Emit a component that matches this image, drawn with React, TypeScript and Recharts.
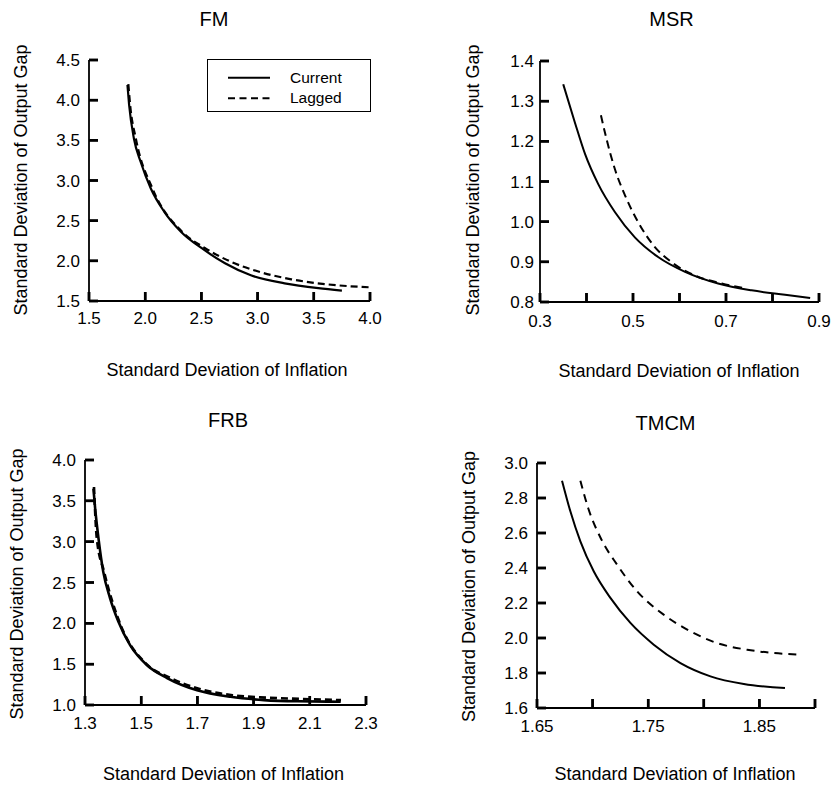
import React from 'react';
import { LineChart, Line, XAxis, YAxis, Legend, Customized, ReferenceLine } from 'recharts';

const FONT = '"Liberation Sans", Arial, Helvetica, sans-serif';

// ---------- FM ----------
const fmCurrentX = [1.842, 1.857, 1.9, 1.96, 2.05, 2.17, 2.32, 2.5, 2.71, 2.94, 3.24, 3.54, 3.75];
const fmCurrentY = [4.19, 3.94, 3.52, 3.23, 2.9, 2.61, 2.36, 2.16, 1.97, 1.82, 1.72, 1.66, 1.63];
const fmLaggedX = [1.85, 1.866, 1.917, 2.065, 2.33, 2.53, 2.76, 3.0, 3.3, 3.6, 4.0];
const fmLaggedY = [4.2, 3.94, 3.52, 2.9, 2.36, 2.16, 1.99, 1.87, 1.77, 1.71, 1.67];
const fmXTicks = [1.5, 2.0, 2.5, 3.0, 3.5, 4.0];
const fmYTicks = [1.5, 2.0, 2.5, 3.0, 3.5, 4.0, 4.5];

// ---------- MSR ----------
const msrCurrentX = [0.35, 0.375, 0.397, 0.425, 0.461, 0.504, 0.554, 0.612, 0.683, 0.755, 0.827, 0.881];
const msrCurrentY = [1.342, 1.247, 1.168, 1.094, 1.024, 0.961, 0.912, 0.875, 0.846, 0.829, 0.818, 0.81];
const msrLaggedX = [0.431, 0.443, 0.461, 0.483, 0.511, 0.544, 0.583, 0.633, 0.691, 0.74];
const msrLaggedY = [1.265, 1.206, 1.131, 1.065, 0.999, 0.941, 0.899, 0.866, 0.846, 0.834];
const msrXTicks = [0.3, 0.4, 0.5, 0.6, 0.7, 0.8, 0.9];
const msrXLabels = [0.3, 0.5, 0.7, 0.9];
const msrYTicks = [0.8, 0.9, 1.0, 1.1, 1.2, 1.3, 1.4];

// ---------- FRB ----------
const frbCurrentX = [1.33, 1.336, 1.348, 1.365, 1.389, 1.419, 1.461, 1.52, 1.592, 1.699, 1.818, 1.937, 2.056, 2.21];
const frbCurrentY = [3.65, 3.41, 3.04, 2.63, 2.31, 2.02, 1.73, 1.49, 1.33, 1.18, 1.1, 1.06, 1.045, 1.04];
const frbLaggedX = [1.332, 1.342, 1.368, 1.422, 1.522, 1.598, 1.705, 1.825, 1.945, 2.065, 2.211];
const frbLaggedY = [3.67, 3.04, 2.63, 2.02, 1.49, 1.34, 1.2, 1.12, 1.09, 1.075, 1.06];
const frbXTicks = [1.3, 1.5, 1.7, 1.9, 2.1, 2.3];
const frbYTicks = [1.0, 1.5, 2.0, 2.5, 3.0, 3.5, 4.0];

// ---------- TMCM ----------
const tmcmCurrentX = [1.6725, 1.68, 1.689, 1.701, 1.716, 1.734, 1.755, 1.779, 1.806, 1.836, 1.873];
const tmcmCurrentY = [2.899, 2.724, 2.552, 2.381, 2.229, 2.086, 1.962, 1.857, 1.781, 1.737, 1.714];
const tmcmLaggedX = [1.689, 1.696, 1.708, 1.722, 1.74, 1.764, 1.788, 1.812, 1.839, 1.863, 1.887];
const tmcmLaggedY = [2.899, 2.743, 2.562, 2.419, 2.267, 2.133, 2.038, 1.971, 1.933, 1.914, 1.905];
const tmcmXTicks = [1.65, 1.7, 1.75, 1.8, 1.85, 1.9];
const tmcmXLabels = [1.65, 1.75, 1.85];
const tmcmYTicks = [1.6, 1.8, 2.0, 2.2, 2.4, 2.6, 2.8, 3.0];

const seriesNames = ['Current', 'Lagged'];
const xTitle = 'Standard Deviation of Inflation';
const yTitle = 'Standard Deviation of Output Gap';

const zip = (xs: number[], ys: number[]) => xs.map((x, i) => ({ x, y: ys[i] }));

const TICK_LEN = 9;
const TICK_W = 2.5;

const LegendBox = () => (
  <div
    style={{
      width: 164,
      height: 53,
      border: '1.5px solid #000',
      boxSizing: 'border-box',
      background: '#fff',
      position: 'relative',
    }}
  >
    <svg width={164} height={53} style={{ position: 'absolute', left: -1.5, top: -1.5 }}>
      <line x1={21} x2={63} y1={18.7} y2={18.7} stroke="#000" strokeWidth={2} />
      <line x1={21} x2={63} y1={39.3} y2={39.3} stroke="#000" strokeWidth={2} strokeDasharray="7 4.5" />
      <text x={83} y={23.8} fontFamily={FONT} fontSize={15.5} fill="#000">{seriesNames[0]}</text>
      <text x={83} y={44.3} fontFamily={FONT} fontSize={15.5} fill="#000">{seriesNames[1]}</text>
    </svg>
  </div>
);

type TickCfg = { font: number; gap: number; fmt: (v: number) => string };

const makeXTick = (c: TickCfg) => (props: any) => {
  const { x, y, payload } = props;
  return (
    <g>
      <rect x={x - TICK_W / 2} y={y - TICK_LEN} width={TICK_W} height={TICK_LEN} fill="#000" />
      <text x={x} y={y + c.gap + c.font * 0.72} textAnchor="middle" fontFamily={FONT} fontSize={c.font} fill="#000">
        {c.fmt(payload.value)}
      </text>
    </g>
  );
};

const makeYTick = (c: TickCfg) => (props: any) => {
  const { x, y, payload } = props;
  return (
    <g>
      <rect x={x} y={y - TICK_W / 2} width={TICK_LEN} height={TICK_W} fill="#000" />
      <text x={x - c.gap} y={y + c.font * 0.36} textAnchor="end" fontFamily={FONT} fontSize={c.font} fill="#000">
        {c.fmt(payload.value)}
      </text>
    </g>
  );
};

type PanelProps = {
  title: string;
  left: number;
  top: number;
  width: number;
  height: number;
  margin: { top: number; right: number; left: number; bottom: number };
  yAxisWidth: number;
  xAxisHeight: number;
  xDomain: [number, number];
  yDomain: [number, number];
  xTicks: number[];
  yTicks: number[];
  xLabels?: number[];
  xDigits: number;
  yDigits: number;
  current: { x: number; y: number }[];
  lagged: { x: number; y: number }[];
  dash: string;
  lineWidth: number;
  tickFont: number;
  yLabelGap: number;
  xLabelGap: number;
  titlePos: [number, number];
  yTitlePos: [number, number];
  xTitlePos: [number, number];
  legend?: boolean;
};

const Panel = (p: PanelProps) => {
  const fmtX = (v: number) => {
    if (p.xLabels && !p.xLabels.some((t) => Math.abs(t - v) < 1e-6)) return '';
    return v.toFixed(p.xDigits);
  };
  const fmtY = (v: number) => v.toFixed(p.yDigits);
  const axisLine = { stroke: '#000', strokeWidth: 1.8 };
  const XTick = makeXTick({ font: p.tickFont, gap: p.xLabelGap, fmt: fmtX });
  const YTick = makeYTick({ font: p.tickFont, gap: p.yLabelGap, fmt: fmtY });

  // inward tick length expressed in data units of each axis
  const plotW = p.width - p.margin.left - p.margin.right - p.yAxisWidth;
  const plotH = p.height - p.margin.top - p.margin.bottom - p.xAxisHeight;
  const dx = (TICK_LEN * (p.xDomain[1] - p.xDomain[0])) / plotW;
  const dy = (TICK_LEN * (p.yDomain[1] - p.yDomain[0])) / plotH;
  const [x0] = p.xDomain;
  const [y0] = p.yDomain;

  const Titles = () => (
    <g>
      <text x={p.titlePos[0]} y={p.titlePos[1]} textAnchor="middle" fontFamily={FONT} fontSize={20} fill="#000">
        {p.title}
      </text>
      <text x={p.xTitlePos[0]} y={p.xTitlePos[1]} textAnchor="middle" fontFamily={FONT} fontSize={18} fill="#000">
        {xTitle}
      </text>
      <text
        x={p.yTitlePos[0]}
        y={p.yTitlePos[1]}
        textAnchor="middle"
        fontFamily={FONT}
        fontSize={18}
        fill="#000"
        transform={`rotate(-90 ${p.yTitlePos[0]} ${p.yTitlePos[1]})`}
      >
        {yTitle}
      </text>
    </g>
  );
  return (
    <div style={{ position: 'absolute', left: p.left, top: p.top, width: p.width, height: p.height }}>
      <LineChart width={p.width} height={p.height} margin={p.margin}>
        <XAxis
          type="number"
          dataKey="x"
          domain={p.xDomain}
          ticks={p.xTicks}
          interval={0}
          height={p.xAxisHeight}
          axisLine={axisLine}
          tickLine={false}
          tick={XTick}
          tickSize={0}
          tickMargin={0}
        />
        <YAxis
          type="number"
          dataKey="y"
          domain={p.yDomain}
          ticks={p.yTicks}
          interval={0}
          width={p.yAxisWidth}
          axisLine={axisLine}
          tickLine={false}
          tick={YTick}
          tickSize={0}
          tickMargin={0}
        />
        {p.xTicks.map((v) => (
          <ReferenceLine
            key={`xt${v}`}
            segment={[{ x: v, y: y0 }, { x: v, y: y0 + dy }]}
            stroke="#000"
            strokeWidth={TICK_W}
            ifOverflow="visible"
          />
        ))}
        {p.yTicks.map((v) => (
          <ReferenceLine
            key={`yt${v}`}
            segment={[{ x: x0, y: v }, { x: x0 + dx, y: v }]}
            stroke="#000"
            strokeWidth={TICK_W}
            ifOverflow="visible"
          />
        ))}
        <Line
          data={p.current}
          dataKey="y"
          name={seriesNames[0]}
          type="monotone"
          stroke="#000"
          strokeWidth={p.lineWidth}
          dot={false}
          isAnimationActive={false}
        />
        <Line
          data={p.lagged}
          dataKey="y"
          name={seriesNames[1]}
          type="monotone"
          stroke="#000"
          strokeWidth={p.lineWidth}
          strokeDasharray={p.dash}
          dot={false}
          isAnimationActive={false}
        />
        {p.legend && (
          <Legend
            layout="horizontal"
            verticalAlign="middle"
            align="center"
            content={() => <LegendBox />}
            wrapperStyle={{ left: 207, top: 59, width: 164, height: 53 }}
          />
        )}
        <Customized component={Titles} />
      </LineChart>
    </div>
  );
};

export default function App() {
  return (
    <div style={{ position: 'absolute', left: 0, top: 0, width: 833, height: 785, background: '#fff' }}>
      <Panel
        title="FM"
        left={0}
        top={0}
        width={416}
        height={392}
        margin={{ top: 60, right: 46, left: 0, bottom: 0 }}
        yAxisWidth={89}
        xAxisHeight={91}
        xDomain={[1.5, 4.0]}
        yDomain={[1.5, 4.5]}
        xTicks={fmXTicks}
        yTicks={fmYTicks}
        xDigits={1}
        yDigits={1}
        current={zip(fmCurrentX, fmCurrentY)}
        lagged={zip(fmLaggedX, fmLaggedY)}
        dash="7 4"
        lineWidth={2.2}
        tickFont={17}
        yLabelGap={9}
        xLabelGap={11}
        titlePos={[214, 26]}
        yTitlePos={[26.5, 180]}
        xTitlePos={[227, 376]}
        legend
      />
      <Panel
        title="MSR"
        left={416}
        top={0}
        width={417}
        height={392}
        margin={{ top: 61, right: 14, left: 0, bottom: 0 }}
        yAxisWidth={124}
        xAxisHeight={90}
        xDomain={[0.3, 0.9]}
        yDomain={[0.8, 1.4]}
        xTicks={msrXTicks}
        yTicks={msrYTicks}
        xLabels={msrXLabels}
        xDigits={1}
        yDigits={1}
        current={zip(msrCurrentX, msrCurrentY)}
        lagged={zip(msrLaggedX, msrLaggedY)}
        dash="8 5"
        lineWidth={2}
        tickFont={17}
        yLabelGap={6}
        xLabelGap={13}
        titlePos={[255.5, 26]}
        yTitlePos={[63, 180]}
        xTitlePos={[263, 376.5]}
      />
      <Panel
        title="FRB"
        left={0}
        top={392}
        width={416}
        height={393}
        margin={{ top: 68, right: 50, left: 0, bottom: 0 }}
        yAxisWidth={85}
        xAxisHeight={80}
        xDomain={[1.3, 2.3]}
        yDomain={[1.0, 4.0]}
        xTicks={frbXTicks}
        yTicks={frbYTicks}
        xDigits={1}
        yDigits={1}
        current={zip(frbCurrentX, frbCurrentY)}
        lagged={zip(frbLaggedX, frbLaggedY)}
        dash="7 4"
        lineWidth={2.6}
        tickFont={17}
        yLabelGap={9}
        xLabelGap={12}
        titlePos={[228, 35]}
        yTitlePos={[22.5, 192]}
        xTitlePos={[223.5, 387.5]}
      />
      <Panel
        title="TMCM"
        left={416}
        top={392}
        width={417}
        height={393}
        margin={{ top: 71, right: 18, left: 0, bottom: 0 }}
        yAxisWidth={121}
        xAxisHeight={77}
        xDomain={[1.65, 1.9]}
        yDomain={[1.6, 3.0]}
        xTicks={tmcmXTicks}
        yTicks={tmcmYTicks}
        xLabels={tmcmXLabels}
        xDigits={2}
        yDigits={1}
        current={zip(tmcmCurrentX, tmcmCurrentY)}
        lagged={zip(tmcmLaggedX, tmcmLaggedY)}
        dash="8 6"
        lineWidth={2}
        tickFont={17}
        yLabelGap={9}
        xLabelGap={12}
        titlePos={[249.5, 38]}
        yTitlePos={[59, 194.5]}
        xTitlePos={[259, 388]}
      />
    </div>
  );
}
